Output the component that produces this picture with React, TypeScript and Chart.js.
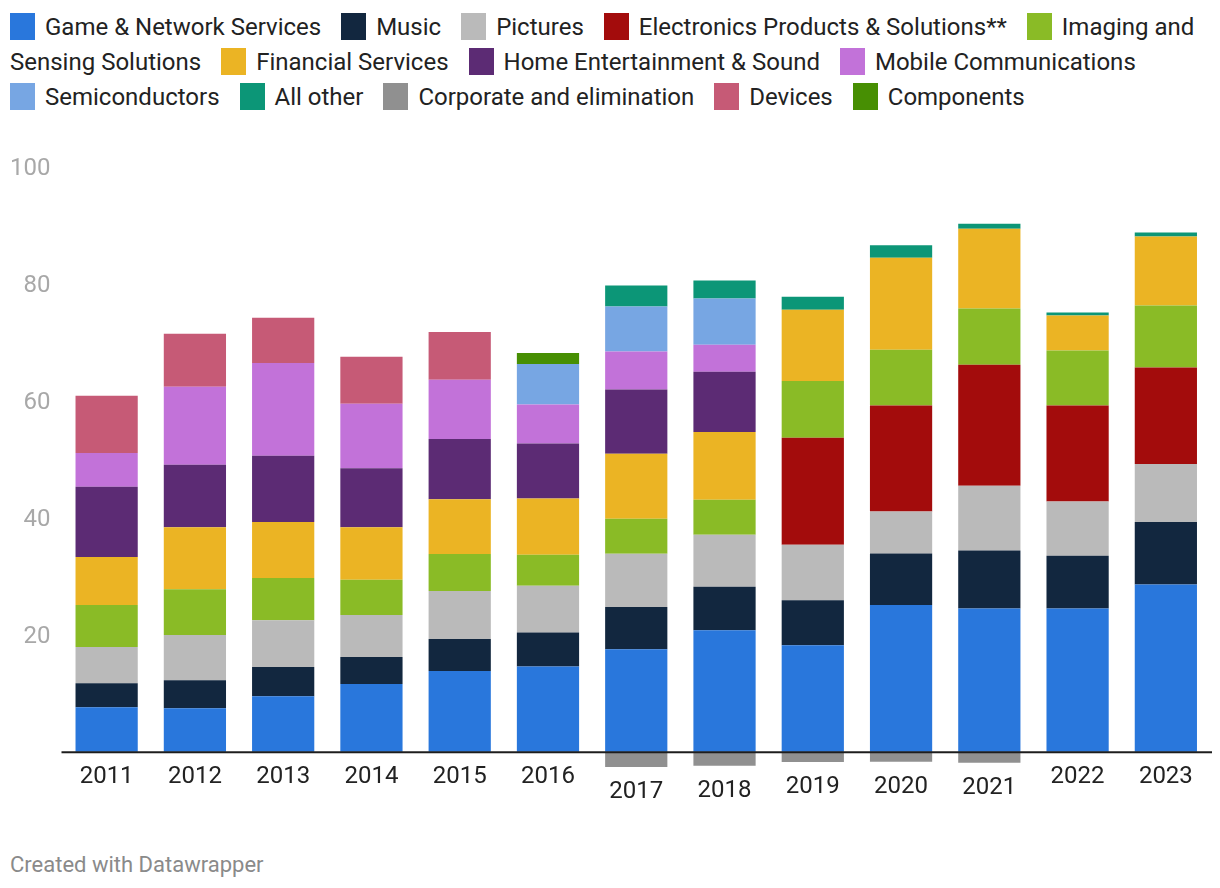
import React, { useEffect, useRef } from "react";
import { Chart, registerables } from "chart.js";

Chart.register(...registerables);

const categories = ["2011", "2012", "2013", "2014", "2015", "2016", "2017", "2018", "2019", "2020", "2021", "2022", "2023"];

const gameNetwork = [7.6, 7.45, 9.5, 11.6, 13.8, 14.6, 17.55, 20.8, 18.2, 25.1, 24.5, 24.5, 28.6];
const music = [4.1, 4.8, 5.0, 4.6, 5.5, 5.8, 7.2, 7.4, 7.7, 8.8, 9.9, 9.0, 10.7];
const pictures = [6.2, 7.7, 8.0, 7.2, 8.2, 8.0, 9.1, 8.9, 9.5, 7.2, 11.1, 9.3, 9.9];
const electronics = [null, null, null, null, null, null, null, null, 18.3, 18.1, 20.7, 16.4, 16.5];
const imaging = [7.2, 7.85, 7.2, 6.0, 6.3, 5.3, 6.0, 6.0, 9.7, 9.55, 9.6, 9.4, 10.6];
const financial = [8.2, 10.6, 9.6, 9.0, 9.4, 9.6, 11.1, 11.6, 12.2, 15.75, 13.65, 6.0, 11.8];
const homeEnt = [12.0, 10.7, 11.3, 10.1, 10.3, 9.4, 11.0, 10.3, null, null, null, null, null];
const mobile = [5.8, 13.3, 15.9, 11.0, 10.1, 6.7, 6.5, 4.6, null, null, null, null, null];
const semis = [null, null, null, null, null, 6.9, 7.7, 7.9, null, null, null, null, null];
const allOther = [null, null, null, null, null, null, 3.6, 3.1, 2.2, 2.1, 0.85, 0.5, 0.7];
const corporate = [null, null, null, null, null, null, -2.6, -2.4, -1.75, -1.7, -1.9, null, null];
const devices = [9.8, 9.1, 7.7, 8.05, 8.2, null, null, null, null, null, null, null, null];
const components = [null, null, null, null, null, 1.9, null, null, null, null, null, null, null];

const yTicks = [20, 40, 60, 80, 100];

const series = [
  { label: "Game & Network Services", data: gameNetwork, color: "#2977dc" },
  { label: "Music", data: music, color: "#12273f" },
  { label: "Pictures", data: pictures, color: "#bababa" },
  { label: "Electronics Products & Solutions**", data: electronics, color: "#a30c0c" },
  { label: "Imaging and Sensing Solutions", data: imaging, color: "#8abb26" },
  { label: "Financial Services", data: financial, color: "#ebb424" },
  { label: "Home Entertainment & Sound", data: homeEnt, color: "#5c2b74" },
  { label: "Mobile Communications", data: mobile, color: "#c272d9" },
  { label: "Semiconductors", data: semis, color: "#77a6e3" },
  { label: "All other", data: allOther, color: "#0c9677" },
  { label: "Corporate and elimination", data: corporate, color: "#909090" },
  { label: "Devices", data: devices, color: "#c65a76" },
  { label: "Components", data: components, color: "#478f03" },
];

const FONT = "Roboto, 'Noto Sans', sans-serif";

const axisPlugin = {
  id: "dwAxis",
  afterDatasetsDraw(chart: any) {
    const { ctx, chartArea, scales } = chart;
    const y = scales.y;
    const x = scales.x;
    const zeroY = y.getPixelForValue(0);
    ctx.save();
    ctx.fillStyle = "#1d1d1d";
    ctx.fillRect(chartArea.left - 1, zeroY - 0.5, chartArea.right - chartArea.left + 3, 2);
    ctx.font = `24px ${FONT}`;
    ctx.textBaseline = "middle";
    ctx.fillStyle = "#a8a8a8";
    ctx.textAlign = "right";
    y.ticks.forEach((t: any) => {
      ctx.fillText(String(t.value), 50.5, y.getPixelForValue(t.value) + 2);
    });
    ctx.fillStyle = "#222222";
    ctx.textAlign = "center";
    categories.forEach((cat, i) => {
      let neg = 0;
      series.forEach((s) => {
        const v = s.data[i];
        if (v !== null && v < 0) neg += v;
      });
      const bottom = Math.max(zeroY, y.getPixelForValue(neg));
      ctx.fillText(cat, x.getPixelForValue(i), bottom + 25);
    });
    ctx.restore();
  },
};

function ChartCanvas() {
  const ref = useRef<HTMLCanvasElement>(null);
  useEffect(() => {
    if (!ref.current) return;
    const chart = new Chart(ref.current, {
      type: "bar",
      data: {
        labels: categories,
        datasets: series.map((s) => ({
          label: s.label,
          data: s.data as any,
          backgroundColor: s.color,
          borderWidth: 0,
          barPercentage: 0.705,
          categoryPercentage: 1,
          stack: "a",
        })),
      },
      options: {
        responsive: false,
        maintainAspectRatio: false,
        animation: false,
        layout: { padding: { top: 27, bottom: 39, left: 0, right: 10 } },
        plugins: { legend: { display: false }, tooltip: { enabled: false } },
        scales: {
          x: {
            stacked: true,
            display: false,
            grid: { display: false },
          },
          y: {
            stacked: true,
            min: -5,
            max: 100,
            border: { display: false },
            grid: { display: false, drawTicks: false },
            afterBuildTicks: (scale: any) => {
              scale.ticks = yTicks.map((v) => ({ value: v }));
            },
            afterFit: (scale: any) => {
              scale.width = 62.5;
            },
            ticks: { display: false },
          },
        },
      },
      plugins: [axisPlugin],
    });
    return () => chart.destroy();
  }, []);
  return (
    <canvas
      ref={ref}
      width={1220}
      height={680}
      style={{ position: "absolute", left: 0, top: 140, width: 1220, height: 680 }}
    />
  );
}

export default function App() {
  return (
    <div
      style={{
        position: "fixed",
        left: 0,
        top: 0,
        width: 1220,
        height: 888,
        background: "#ffffff",
        fontFamily: FONT,
        overflow: "hidden",
      }}
    >
      <div
        style={{
          position: "absolute",
          left: 10,
          top: 10,
          width: 1200,
          fontSize: 24,
          lineHeight: "35px",
          color: "#222222",
        }}
      >
        {series.map((s) => {
          const sp = s.label.indexOf(" ");
          const first = sp < 0 ? s.label : s.label.slice(0, sp);
          const rest = sp < 0 ? "" : s.label.slice(sp);
          return (
            <span key={s.label} style={{ marginRight: 20 }}>
              <span style={{ whiteSpace: "nowrap" }}>
                <span
                  style={{
                    display: "inline-block",
                    width: 25,
                    height: 27,
                    background: s.color,
                    verticalAlign: "-5px",
                    marginRight: 10,
                  }}
                />
                {first}
              </span>
              {rest}
            </span>
          );
        })}
      </div>
      <ChartCanvas />
      <div
        style={{
          position: "absolute",
          left: 10,
          top: 851,
          fontSize: 22,
          lineHeight: "28px",
          color: "#8a8a8a",
        }}
      >
        Created with Datawrapper
      </div>
    </div>
  );
}
